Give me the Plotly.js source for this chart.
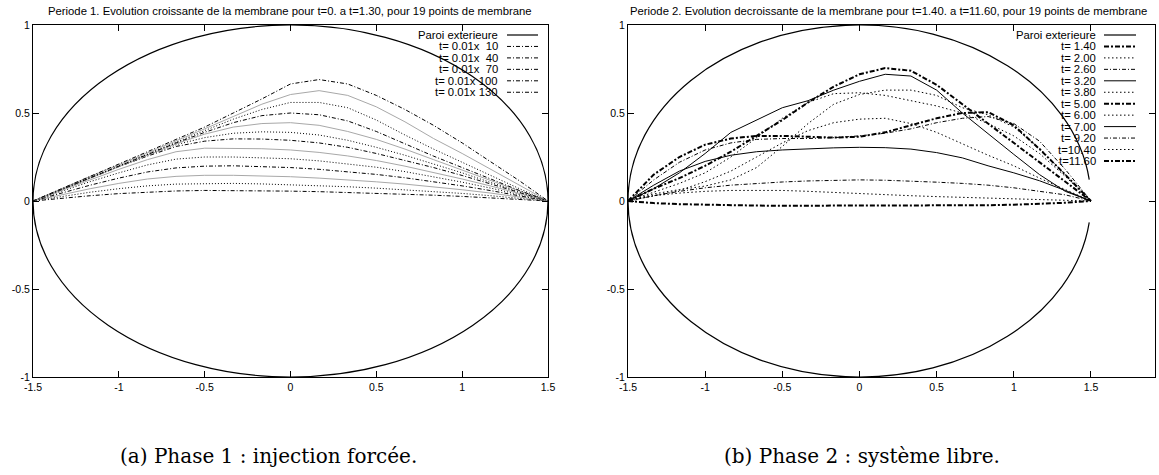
<!DOCTYPE html>
<html><head><meta charset="utf-8">
<script src="https://cdn.plot.ly/plotly-3.0.1.min.js"></script>
<style>html,body{margin:0;padding:0;background:#fff;} #chart{width:1159px;height:475px;}</style>
</head><body><div id="chart"></div>
<script>
// ---------- data ----------
const xGrid = [-1.5, -1.3333, -1.1667, -1.0, -0.8333, -0.6667, -0.5, -0.3333, -0.1667, 0, 0.1667, 0.3333, 0.5, 0.6667, 0.8333, 1.0, 1.1667, 1.3333, 1.5];
const xTicks = [-1.5, -1, -0.5, 0, 0.5, 1, 1.5];
const xTickText = ['-1.5', '-1', '-0.5', '0', '0.5', '1', '1.5'];
const yTicks = [-1, -0.5, 0, 0.5, 1];
const yTickText = ['-1', '-0.5', '0', '0.5', '1'];
const wallSemiAxes = [1.5, 1];

// Phase 1 (t = 0.01 x N)
const p1Labels = [10, 20, 30, 40, 50, 60, 70, 80, 90, 100, 110, 120, 130];
const p1_t010 = [0, 0.016, 0.03, 0.042, 0.051, 0.057, 0.06, 0.06, 0.058, 0.056, 0.053, 0.049, 0.044, 0.039, 0.033, 0.026, 0.018, 0.009, 0];
const p1_t020 = [0, 0.026, 0.05, 0.07, 0.086, 0.096, 0.1, 0.1, 0.097, 0.093, 0.088, 0.081, 0.073, 0.064, 0.054, 0.043, 0.03, 0.016, 0];
const p1_t030 = [0, 0.036, 0.07, 0.1, 0.125, 0.14, 0.146, 0.146, 0.143, 0.138, 0.13, 0.121, 0.109, 0.096, 0.081, 0.064, 0.045, 0.023, 0];
const p1_t040 = [0, 0.045, 0.09, 0.13, 0.165, 0.188, 0.198, 0.2, 0.197, 0.19, 0.18, 0.167, 0.151, 0.132, 0.11, 0.086, 0.059, 0.03, 0];
const p1_t050 = [0, 0.055, 0.11, 0.16, 0.205, 0.238, 0.25, 0.25, 0.247, 0.24, 0.228, 0.212, 0.192, 0.167, 0.138, 0.107, 0.073, 0.037, 0];
const p1_t060 = [0, 0.06, 0.12, 0.18, 0.235, 0.28, 0.3, 0.3, 0.297, 0.29, 0.276, 0.256, 0.23, 0.198, 0.163, 0.125, 0.085, 0.043, 0];
const p1_t070 = [0, 0.065, 0.13, 0.195, 0.255, 0.31, 0.34, 0.353, 0.352, 0.345, 0.33, 0.305, 0.27, 0.23, 0.19, 0.145, 0.097, 0.048, 0];
const p1_t080 = [0, 0.065, 0.13, 0.195, 0.26, 0.32, 0.36, 0.385, 0.393, 0.39, 0.375, 0.345, 0.305, 0.26, 0.21, 0.16, 0.105, 0.052, 0];
const p1_t090 = [0, 0.065, 0.13, 0.195, 0.26, 0.325, 0.38, 0.42, 0.44, 0.445, 0.43, 0.395, 0.35, 0.295, 0.235, 0.175, 0.115, 0.057, 0];
const p1_t100 = [0, 0.066, 0.132, 0.198, 0.264, 0.33, 0.39, 0.445, 0.485, 0.5, 0.49, 0.455, 0.395, 0.325, 0.255, 0.19, 0.125, 0.06, 0];
const p1_t110 = [0, 0.068, 0.135, 0.2, 0.267, 0.335, 0.4, 0.465, 0.52, 0.56, 0.56, 0.53, 0.46, 0.375, 0.295, 0.22, 0.145, 0.07, 0];
const p1_t120 = [0, 0.07, 0.14, 0.205, 0.272, 0.34, 0.41, 0.48, 0.55, 0.605, 0.627, 0.6, 0.535, 0.45, 0.355, 0.27, 0.18, 0.09, 0];
const p1_t130 = [0, 0.07, 0.14, 0.21, 0.28, 0.35, 0.42, 0.5, 0.58, 0.665, 0.69, 0.665, 0.6, 0.52, 0.43, 0.33, 0.225, 0.115, 0];
const p1Legend = [10, 40, 70, 100, 130];

// Phase 2 (t in seconds)
const p2Labels = ['1.40', '2.00', '2.60', '3.20', '3.80', '5.00', '6.00', '7.00', '9.20', '10.40', '11.60'];
const p2_t140 = [0, 0.07, 0.13, 0.2, 0.28, 0.37, 0.46, 0.56, 0.65, 0.72, 0.755, 0.74, 0.66, 0.55, 0.44, 0.33, 0.22, 0.11, 0];
const p2_t200 = [0, 0.04, 0.065, 0.085, 0.12, 0.19, 0.31, 0.44, 0.55, 0.605, 0.63, 0.63, 0.6, 0.53, 0.49, 0.42, 0.3, 0.15, 0];
const p2_t260 = [0, 0.12, 0.22, 0.29, 0.33, 0.35, 0.355, 0.355, 0.36, 0.37, 0.385, 0.41, 0.445, 0.47, 0.48, 0.44, 0.34, 0.18, 0];
const p2_t320 = [0, 0.07, 0.16, 0.27, 0.39, 0.46, 0.53, 0.57, 0.63, 0.68, 0.72, 0.71, 0.63, 0.5, 0.38, 0.265, 0.15, 0.055, 0];
const p2_t380 = [0, 0.05, 0.1, 0.16, 0.25, 0.36, 0.47, 0.56, 0.61, 0.615, 0.6, 0.57, 0.54, 0.5, 0.44, 0.37, 0.27, 0.14, 0];
const p2_t500 = [0, 0.15, 0.25, 0.32, 0.355, 0.37, 0.37, 0.365, 0.36, 0.365, 0.39, 0.43, 0.47, 0.5, 0.505, 0.43, 0.295, 0.15, 0];
const p2_t600 = [0, 0.03, 0.06, 0.11, 0.17, 0.25, 0.33, 0.4, 0.445, 0.465, 0.47, 0.44, 0.39, 0.325, 0.26, 0.2, 0.13, 0.065, 0];
const p2_t700 = [0, 0.09, 0.17, 0.225, 0.26, 0.28, 0.29, 0.297, 0.302, 0.305, 0.303, 0.295, 0.275, 0.245, 0.2, 0.16, 0.115, 0.06, 0];
const p2_t920 = [0, 0.03, 0.055, 0.075, 0.09, 0.1, 0.108, 0.114, 0.118, 0.12, 0.118, 0.114, 0.107, 0.1, 0.09, 0.075, 0.057, 0.035, 0];
const p2_t1040 = [0, 0.03, 0.045, 0.055, 0.06, 0.062, 0.06, 0.055, 0.048, 0.042, 0.036, 0.03, 0.025, 0.02, 0.016, 0.012, 0.008, 0.004, 0];
const p2_t1160 = [0, -0.012, -0.018, -0.022, -0.025, -0.026, -0.027, -0.027, -0.027, -0.027, -0.027, -0.027, -0.026, -0.025, -0.024, -0.021, -0.017, -0.01, 0];

const titleLeft = 'Periode 1. Evolution croissante de la membrane pour t=0. a t=1.30, pour 19 points de membrane';
const titleRight = 'Periode 2. Evolution decroissante de la membrane pour t=1.40. a t=11.60, pour 19 points de membrane';
const captionLeft = '(a) Phase 1 : injection forcée.';
const captionRight = '(b) Phase 2 : système libre.';
const wallName = 'Paroi exterieure';

// ---------- styles ----------
const W = 1159, H = 475;
const FONT = 'Liberation Sans, Arial, Helvetica, sans-serif';
const SERIF = 'DejaVu Serif, Liberation Serif, serif';
const STY = {
  wall: {color: '#000', width: 1.2, dash: 'solid'},
  dd: {color: '#000', width: 1, dash: '4px,2px,1px,2px'},
  dot: {color: '#000', width: 1, dash: '1px,2px'},
  gray: {color: '#a8a8a8', width: 1, dash: 'solid'},
  thick: {color: '#000', width: 2, dash: '5px,2px,2px,2px'},
  dotR: {color: '#000', width: 1, dash: '1.5px,2.5px'},
  solid: {color: '#000', width: 1, dash: 'solid'}
};
const p1Series = [p1_t010, p1_t020, p1_t030, p1_t040, p1_t050, p1_t060, p1_t070, p1_t080, p1_t090, p1_t100, p1_t110, p1_t120, p1_t130];
const p1Style = i => [STY.dd, STY.dot, STY.gray][i % 3];
const p2Series = [p2_t140, p2_t200, p2_t260, p2_t320, p2_t380, p2_t500, p2_t600, p2_t700, p2_t920, p2_t1040, p2_t1160];
const p2Styles = [STY.thick, STY.dotR, STY.dd, STY.solid, STY.dotR, STY.thick, STY.dotR, STY.solid, STY.dd, STY.dotR, STY.thick];

const traces = [];
p1Series.forEach((ys, i) => traces.push({
  x: xGrid, y: ys, xaxis: 'x', yaxis: 'y', type: 'scatter', mode: 'lines',
  name: 't= 0.01x ' + p1Labels[i], showlegend: false, line: p1Style(i), hoverinfo: 'skip'
}));
p2Series.forEach((ys, i) => traces.push({
  x: xGrid, y: ys, xaxis: 'x2', yaxis: 'y2', type: 'scatter', mode: 'lines',
  name: 't=' + p2Labels[i], showlegend: false, line: p2Styles[i], hoverinfo: 'skip'
}));

// ---------- helpers ----------
const px = v => v / W;
const py = v => 1 - v / H;

// Elliptic arc path (Bezier) in data coordinates, from angle a0 to a1 (deg)
function ellipsePath(a, b, a0, a1) {
  const segs = Math.ceil((a1 - a0) / 90);
  const step = (a1 - a0) / segs * Math.PI / 180;
  let t = a0 * Math.PI / 180;
  const k = 4 / 3 * Math.tan(step / 4);
  let d = 'M ' + (a * Math.cos(t)) + ',' + (b * Math.sin(t));
  for (let s = 0; s < segs; s++) {
    const t2 = t + step;
    const c1x = a * (Math.cos(t) - k * Math.sin(t)), c1y = b * (Math.sin(t) + k * Math.cos(t));
    const c2x = a * (Math.cos(t2) + k * Math.sin(t2)), c2y = b * (Math.sin(t2) - k * Math.cos(t2));
    d += ' C ' + c1x + ',' + c1y + ' ' + c2x + ',' + c2y + ' ' + (a * Math.cos(t2)) + ',' + (b * Math.sin(t2));
    t = t2;
  }
  return d;
}

const shapes = [
  {type: 'circle', xref: 'x', yref: 'y', x0: -wallSemiAxes[0], x1: wallSemiAxes[0], y0: -wallSemiAxes[1], y1: wallSemiAxes[1], line: STY.wall},
  {type: 'path', xref: 'x2', yref: 'y2', path: ellipsePath(wallSemiAxes[0], wallSemiAxes[1], 7, 353), line: STY.wall}
];
const annotations = [];

function legendEntry(text, textRight, x1, x2, yPix, style) {
  annotations.push({xref: 'paper', yref: 'paper', x: px(textRight), y: py(yPix), xanchor: 'right', yanchor: 'middle',
    text: text, showarrow: false, font: {family: FONT, size: 11.3, color: '#000'}});
  shapes.push({type: 'line', xref: 'paper', yref: 'paper', x0: px(x1), x1: px(x2), y0: py(yPix), y1: py(yPix), line: style});
}
const legTop = 35, legStep = 11.45;
legendEntry(wallName, 500, 507, 538, legTop, STY.wall);
p1Legend.forEach((n, i) => {
  const lab = 't= 0.01x' + (n < 100 ? '\u00a0\u00a0' : '\u00a0') + n;
  legendEntry(lab, 500, 507, 538, legTop + (i + 1) * legStep, STY.dd);
});
legendEntry(wallName, 1098, 1104, 1136, legTop, STY.wall);
p2Labels.forEach((lab, i) => {
  const t = 't=' + (lab.length < 5 ? '\u00a0' : '') + lab;
  legendEntry(t, 1098, 1104, 1136, legTop + (i + 1) * legStep, p2Styles[i]);
});

// titles and captions
annotations.push({xref: 'paper', yref: 'paper', x: px(290), y: py(10.5), xanchor: 'center', yanchor: 'middle', text: titleLeft, showarrow: false, font: {family: FONT, size: 11.3, color: '#000'}});
annotations.push({xref: 'paper', yref: 'paper', x: px(888.5), y: py(10.5), xanchor: 'center', yanchor: 'middle', text: titleRight, showarrow: false, font: {family: FONT, size: 11.3, color: '#000'}});
annotations.push({xref: 'paper', yref: 'paper', x: px(268), y: py(456), xanchor: 'center', yanchor: 'middle', text: captionLeft, showarrow: false, font: {family: SERIF, size: 20, color: '#000'}});
annotations.push({xref: 'paper', yref: 'paper', x: px(862), y: py(456), xanchor: 'center', yanchor: 'middle', text: captionRight, showarrow: false, font: {family: SERIF, size: 20, color: '#000'}});

function axisBase(extra) {
  return Object.assign({
    showline: true, linecolor: '#000', linewidth: 1, mirror: 'ticks', ticks: 'inside', ticklen: 6, tickwidth: 1, tickcolor: '#000',
    showgrid: false, zeroline: false, tickfont: {family: FONT, size: 10.5, color: '#000'}, fixedrange: true
  }, extra);
}
const yDom = [1 - 377 / H, 1 - 25 / H];
const layout = {
  width: W, height: H, margin: {l: 0, r: 0, t: 0, b: 0}, paper_bgcolor: '#fff', plot_bgcolor: '#fff', showlegend: false,
  xaxis: axisBase({domain: [33 / W, 548 / W], range: [-1.5, 1.5], tickmode: 'array', tickvals: xTicks, ticktext: xTickText, anchor: 'y'}),
  yaxis: axisBase({domain: yDom, range: [-1, 1], tickmode: 'array', tickvals: yTicks, ticktext: yTickText, anchor: 'x'}),
  xaxis2: axisBase({domain: [628 / W, 1155 / W], range: [-1.5, 1.915], tickmode: 'array', tickvals: xTicks, ticktext: xTickText, anchor: 'y2'}),
  yaxis2: axisBase({domain: yDom, range: [-1, 1], tickmode: 'array', tickvals: yTicks, ticktext: yTickText, anchor: 'x2'}),
  shapes: shapes, annotations: annotations
};
Plotly.newPlot('chart', traces, layout, {displayModeBar: false, staticPlot: true});
</script></body></html>
